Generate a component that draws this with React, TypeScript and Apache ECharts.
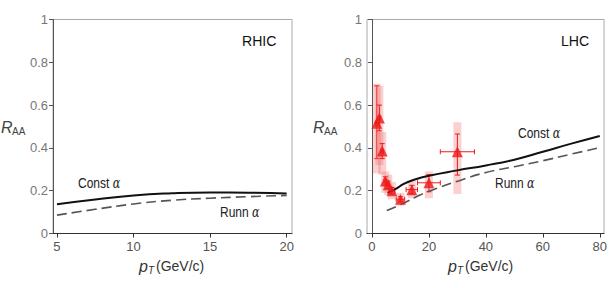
import React, { useEffect, useRef } from "react";
import * as echarts from "echarts";

// RHIC panel curves
const rhicX = [5, 7.5, 10, 12.5, 15, 17.5, 20];
const rhicConst = [0.137, 0.159, 0.178, 0.188, 0.192, 0.191, 0.187];
const rhicRunn = [0.086, 0.113, 0.138, 0.155, 0.165, 0.172, 0.178];

// LHC panel curves
const lhcConstX = [5.5, 8.7, 11, 14.5, 20, 30, 40, 50, 60, 70, 80];
const lhcConst = [0.19, 0.211, 0.231, 0.25, 0.27, 0.295, 0.318, 0.345, 0.382, 0.42, 0.456];
const lhcRunnX = [5.2, 11, 15.6, 20.3, 30.7, 40, 50, 60, 70, 80];
const lhcRunn = [0.107, 0.141, 0.172, 0.199, 0.247, 0.285, 0.312, 0.34, 0.371, 0.401];

// LHC data points
const lhcPt = [1.7, 2.6, 3.6, 4.7, 5.7, 7, 10, 14, 20, 30];
const lhcRaa = [0.515, 0.54, 0.385, 0.245, 0.228, 0.2, 0.16, 0.205, 0.237, 0.382];
const lhcPtErr = [0.5, 0.5, 0.5, 0.5, 0.5, 1, 1.5, 2, 4, 6];
const lhcStatLo = [0.35, 0.48, 0.35, 0.225, 0.21, 0.185, 0.148, 0.185, 0.195, 0.273];
const lhcStatHi = [0.69, 0.6, 0.42, 0.265, 0.245, 0.215, 0.172, 0.225, 0.275, 0.465];
const lhcSysLo = [0.28, 0.32, 0.275, 0.19, 0.18, 0.16, 0.13, 0.165, 0.165, 0.185];
const lhcSysHi = [0.7, 0.69, 0.475, 0.29, 0.275, 0.24, 0.19, 0.245, 0.29, 0.52];

const rhicTicks = [5, 10, 15, 20];
const lhcTicks = [0, 20, 40, 60, 80];

const RED = "#ee1a1a";
const AXIS = "#555";
const LABEL = "#777";

function zip(xs: number[], ys: number[]) {
  return xs.map((x, i) => [x, ys[i]]);
}

function texts(): any[] {
  const items: any[] = [];
  const sans = "Arial, 'Liberation Sans', sans-serif";
  const add = (x: number, y: number, text: string, style: any, extra: any = {}) =>
    items.push({
      type: "text",
      x,
      y,
      ...extra,
      style: { text, fontFamily: sans, fill: "#222", verticalAlign: "middle", ...style },
    });
  // panel titles
  add(242, 41, "RHIC", { fontSize: 15, fill: "#111" }, { scaleX: 0.94 });
  add(561, 41, "LHC", { fontSize: 15, fill: "#111" }, { scaleX: 0.94 });
  // curve labels
  const alpha = { a: { fontFamily: "'DejaVu Serif', serif", fontStyle: "italic", fontSize: 14, fill: "#222" } };
  add(78, 183, "Const {a|α}", { fontSize: 15, rich: alpha }, { scaleX: 0.8 });
  add(220, 212, "Runn {a|α}", { fontSize: 15, rich: alpha }, { scaleX: 0.8 });
  add(518, 133, "Const {a|α}", { fontSize: 15, rich: alpha }, { scaleX: 0.8 });
  add(495, 183, "Runn {a|α}", { fontSize: 15, rich: alpha }, { scaleX: 0.8 });
  // y labels
  for (const x0 of [1, 313]) {
    add(x0, 127, "R", { fontSize: 16, fontStyle: "italic", fill: "#444" });
    add(x0 + 11, 131, "AA", { fontSize: 10, fill: "#444" });
  }
  // x labels
  for (const x0 of [139, 448]) {
    add(x0, 266, "p", { fontSize: 16, fontStyle: "italic", fill: "#333" });
    add(x0 + 9, 270, "T", { fontSize: 10, fontStyle: "italic", fill: "#333" });
    add(x0 + 17, 266, "(GeV/c)", { fontSize: 14, fill: "#333" });
  }
  return items;
}

export default function App() {
  const ref = useRef<HTMLDivElement>(null);
  useEffect(() => {
    if (!ref.current) return;
    const chart = echarts.init(ref.current, undefined, { renderer: "svg" });
    const sans = "Arial, 'Liberation Sans', sans-serif";
    const yAxisBase = {
      type: "value",
      min: 0,
      max: 1,
      interval: 0.2,
      splitLine: { show: false },
      axisLine: { show: true, lineStyle: { color: AXIS, width: 1 } },
      axisTick: { show: true, length: 4, lineStyle: { color: AXIS } },
      axisLabel: { color: LABEL, fontSize: 13, fontFamily: sans, margin: 5 },
    };
    const xAxisBase = (min: number, max: number, ticks: number[]) => ({
      type: "value",
      min,
      max,
      splitLine: { show: false },
      axisLine: { show: true, onZero: false, lineStyle: { color: "#333", width: 1 } },
      axisTick: { show: true, length: 4, customValues: ticks, lineStyle: { color: "#333" } },
      axisLabel: { color: "#555", fontSize: 13, fontFamily: sans, margin: 6, customValues: ticks },
    });

    const errData = lhcPt.map((x, i) => [
      x,
      lhcRaa[i],
      lhcPtErr[i],
      lhcStatLo[i],
      lhcStatHi[i],
      lhcSysLo[i],
      lhcSysHi[i],
    ]);

    chart.setOption({
      animation: false,
      grid: [
        { left: 53, top: 19.5, width: 239, height: 214, show: true, borderColor: "#aaa", borderWidth: 1 },
        { left: 367, top: 19.5, width: 239, height: 214, show: true, borderColor: "#aaa", borderWidth: 1 },
      ],
      xAxis: [
        { gridIndex: 0, ...xAxisBase(4.74, 20.35, rhicTicks) },
        { gridIndex: 1, ...xAxisBase(-1.74, 81.5, lhcTicks) },
      ],
      yAxis: [
        { gridIndex: 0, ...yAxisBase },
        { gridIndex: 1, ...yAxisBase },
      ],
      graphic: texts(),
      series: [
        {
          type: "line",
          xAxisIndex: 0,
          yAxisIndex: 0,
          data: zip(rhicX, rhicConst),
          smooth: true,
          showSymbol: false,
          lineStyle: { color: "#111", width: 2 },
        },
        {
          type: "line",
          xAxisIndex: 0,
          yAxisIndex: 0,
          data: zip(rhicX, rhicRunn),
          smooth: true,
          showSymbol: false,
          lineStyle: { color: "#555", width: 1.6, type: [10, 5] },
        },
        {
          type: "custom",
          xAxisIndex: 1,
          yAxisIndex: 1,
          data: errData,
          z: 1,
          renderItem: (params: any, api: any) => {
            const x = api.value(0);
            const y = api.value(1);
            const xe = api.value(2);
            const c = api.coord([x, y]);
            const sLo = api.coord([x, api.value(3)]);
            const sHi = api.coord([x, api.value(4)]);
            const yLo = api.coord([x, api.value(5)]);
            const yHi = api.coord([x, api.value(6)]);
            const xl = api.coord([x - xe, y]);
            const xr = api.coord([x + xe, y]);
            const bw = 8;
            const cap = 2.5;
            const ls = { stroke: RED, lineWidth: 1 };
            return {
              type: "group",
              children: [
                {
                  type: "rect",
                  shape: { x: c[0] - bw / 2, y: yHi[1], width: bw, height: yLo[1] - yHi[1] },
                  style: { fill: "rgba(240,100,100,0.3)" },
                },
                { type: "line", shape: { x1: c[0], y1: sLo[1], x2: c[0], y2: sHi[1] }, style: ls },
                { type: "line", shape: { x1: c[0] - cap, y1: sLo[1], x2: c[0] + cap, y2: sLo[1] }, style: ls },
                { type: "line", shape: { x1: c[0] - cap, y1: sHi[1], x2: c[0] + cap, y2: sHi[1] }, style: ls },
                { type: "line", shape: { x1: xl[0], y1: c[1], x2: xr[0], y2: c[1] }, style: ls },
                { type: "line", shape: { x1: xl[0], y1: c[1] - cap, x2: xl[0], y2: c[1] + cap }, style: ls },
                { type: "line", shape: { x1: xr[0], y1: c[1] - cap, x2: xr[0], y2: c[1] + cap }, style: ls },
              ],
            };
          },
        },
        {
          type: "line",
          xAxisIndex: 1,
          yAxisIndex: 1,
          data: zip(lhcConstX, lhcConst),
          smooth: true,
          showSymbol: false,
          z: 3,
          lineStyle: { color: "#111", width: 2 },
        },
        {
          type: "line",
          xAxisIndex: 1,
          yAxisIndex: 1,
          data: zip(lhcRunnX, lhcRunn),
          smooth: true,
          showSymbol: false,
          z: 3,
          lineStyle: { color: "#555", width: 1.6, type: [10, 5] },
        },
        {
          type: "scatter",
          xAxisIndex: 1,
          yAxisIndex: 1,
          data: zip(lhcPt, lhcRaa),
          symbol: "triangle",
          symbolSize: 11,
          z: 4,
          itemStyle: { color: RED },
        },
      ],
    });
    return () => chart.dispose();
  }, []);
  return <div ref={ref} style={{ width: 610, height: 288, position: "absolute", left: 0, top: 0 }} />;
}
